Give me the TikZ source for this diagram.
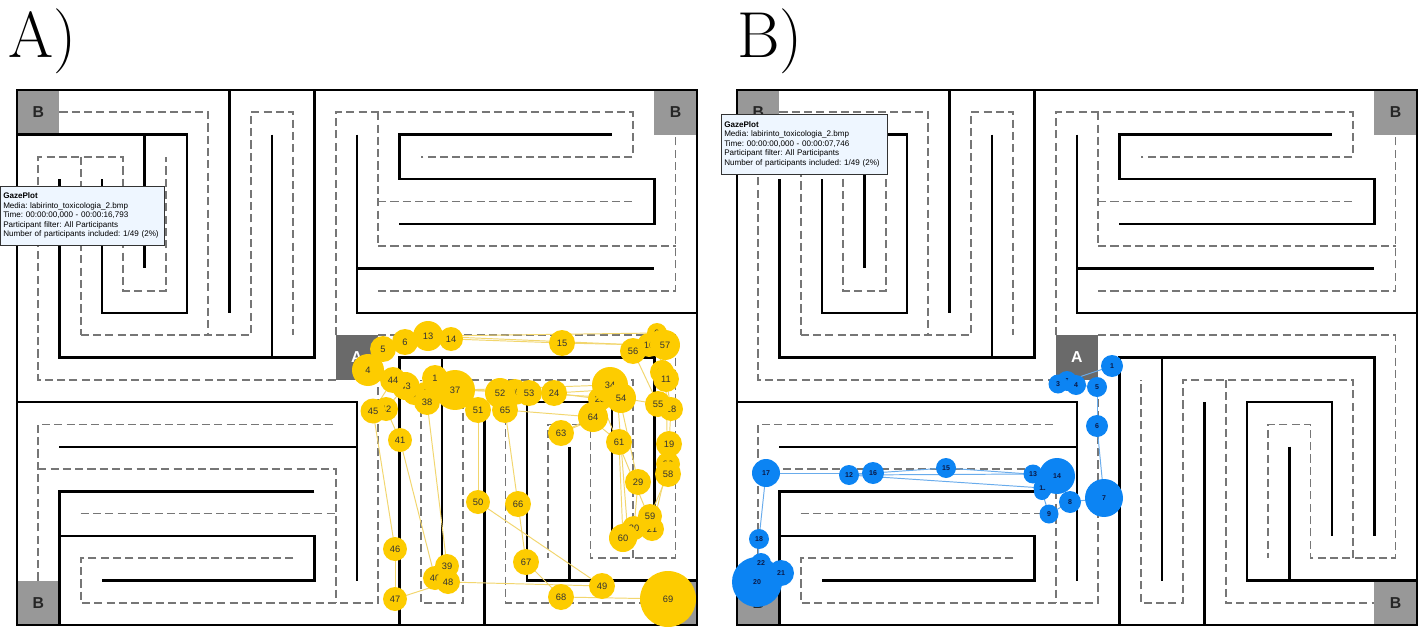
\documentclass[tikz,border=0pt]{standalone}
\usepackage{fontspec}
\setsansfont{Liberation Sans}
\definecolor{gold}{RGB}{253,204,0}
\definecolor{ylin}{RGB}{242,214,110}
\definecolor{gblue}{RGB}{12,132,243}
\definecolor{blin}{RGB}{105,172,236}
\definecolor{navy}{RGB}{10,25,70}
\definecolor{dgray}{RGB}{118,118,118}
\definecolor{bgray}{RGB}{152,152,152}
\definecolor{agray}{RGB}{106,106,106}
\definecolor{tipfill}{RGB}{238,246,255}
\pgfdeclarelayer{bg}
\pgfdeclarelayer{mid}
\pgfsetlayers{bg,mid,main}
\newcommand{\mazeplan}[1]{%
  \fill[bgray] (0,0) rectangle (1,1);
  \fill[bgray] (15,0) rectangle (16,1);
  \fill[bgray] (0,11) rectangle (1,12);
  \fill[bgray] (15,11) rectangle (16,12);
  \fill[agray] (7.5,5.5) rectangle (8.5,6.5);
  \node[blabel] (#1b1) at (0.5,0.5) {B};
  \node[blabel] (#1b2) at (15.5,0.5) {B};
  \node[blabel] (#1b3) at (0.5,11.5) {B};
  \node[blabel] (#1b4) at (15.5,11.5) {B};
  \node[alabel] (#1a) at (8,6) {A};
  % dashed corridors
  \draw[route] (1,0.5)--(4.5,0.5)--(4.5,5.5);
  \draw[route] (1.5,5.5)--(5.5,5.5)--(5.5,0.5)--(6.5,0.5)--(6.5,5.5);
  \draw[route] (7.5,6.5)--(0.5,6.5)--(0.5,1.5)--(2.5,1.5)--(2.5,4.5)--(3.5,4.5)--(3.5,1.5);
  \draw[route] (1.5,1.5)--(1.5,5.5);
  \draw[route] (7.5,5.5)--(7.5,0.5)--(14.5,0.5)--(14.5,1.5)--(9.5,1.5);
  \draw[route] (8.5,0.5)--(8.5,3.5);
  \draw[route] (8.5,2.5)--(14.5,2.5);
  \draw[route] (8.5,3.5)--(15.5,3.5);
  \draw[route] (8.5,4.5)--(15.5,4.5)--(15.5,1);
  \draw[route] (0.5,11)--(0.5,7.5)--(7.5,7.5);
  \draw[route] (0.5,8.5)--(7.5,8.5)--(7.5,11.5);
  \draw[route] (1.5,9.5)--(7.5,9.5);
  \draw[route] (6.5,10.5)--(1.5,10.5)--(1.5,11.5)--(8.5,11.5)--(8.5,6.5);
  \draw[route] (8.5,5.5)--(15.5,5.5)--(15.5,10.5)--(13.5,10.5)--(13.5,7.5)--(12.5,7.5)--(12.5,10.5);
  \draw[route] (14.5,10.5)--(14.5,6.5)--(10.5,6.5)--(10.5,11.5)--(9.5,11.5)--(9.5,6.5);
  \draw[route] (11.5,6.5)--(11.5,11.5)--(15,11.5);
  % walls
  \draw[wall] (0,0) rectangle (16,12);
  \draw[wall] (0,1)--(4,1)--(4,5)--(2,5)--(2,2);
  \draw[wall] (3,1)--(3,4);
  \draw[wall] (1,2)--(1,6)--(7,6)--(7,0);
  \draw[wall] (5,0)--(5,5);
  \draw[wall] (6,1)--(6,6);
  \draw[wall] (8,1)--(8,5)--(16,5);
  \draw[wall] (8,4)--(15,4);
  \draw[wall] (14,1)--(9,1)--(9,2)--(15,2)--(15,3)--(9,3);
  \draw[wall] (0,7)--(8,7)--(8,11);
  \draw[wall] (1,8)--(8,8);
  \draw[wall] (7,9)--(1,9)--(1,12);
  \draw[wall] (1,10)--(7,10)--(7,11)--(2,11);
  \draw[wall] (9,12)--(9,6)--(15,6)--(15,10);
  \draw[wall] (10,6)--(10,11);
  \draw[wall] (11,7)--(11,12);
  \draw[wall] (14,10)--(14,7)--(12,7)--(12,11)--(16,11);
  \draw[wall] (13,8)--(13,11);
}
\begin{document}
\begin{tikzpicture}[x=0.02cm,y=-0.02cm,
  wall/.style={line width=1.35pt, black},
  route/.style={line width=0.95pt, color=dgray, dash pattern=on 4.6pt off 2.4pt},
  blabel/.style={font=\sffamily\bfseries\fontsize{9}{10}\selectfont, text=black!85},
  alabel/.style={font=\sffamily\bfseries\fontsize{9}{10}\selectfont, text=white},
  ydot/.style={circle, fill=gold, inner sep=0pt, minimum size={#1*0.04cm}, font=\sffamily\fontsize{5.3}{6}\selectfont, text=black!80},
  bdot/.style={circle, fill=gblue, inner sep=0pt, minimum size={#1*0.04cm}, font=\sffamily\bfseries\fontsize{4}{5}\selectfont, text=navy},
  yline/.style={line width=0.55pt, color=ylin},
  bline/.style={line width=0.55pt, color=blin},
  tipbox/.style={draw=black!80, line width=0.5pt, fill=tipfill, anchor=north west, text width=90pt, inner xsep=1.6pt, align=left, font=\sffamily\fontsize{4.6}{5.4}\selectfont\frenchspacing},
  panel/.style={font=\fontsize{37}{42}\selectfont, anchor=base west, inner sep=0pt}
]
\useasboundingbox (0,0) rectangle (1421,626);
\begin{pgfonlayer}{bg}
  \fill[white] (0,0) rectangle (1421,626);
  \begin{scope}[shift={(17,90)},x=0.85cm,y=-0.892cm]
    \mazeplan{L}
  \end{scope}
  \begin{scope}[shift={(737,90)},x=0.85cm,y=-0.892cm]
    \mazeplan{R}
  \end{scope}
\end{pgfonlayer}

\node[panel] (pa) at (8,57) {A)};
\node[panel] (pb) at (737,57) {B)};

% yellow fixations (panel A)
\foreach \n/\x/\y/\r in {
 1/435/378/13, 2/425/393/11, 3/414/394/11, 4/368/370/16, 5/383/349/13,
 6/405/342/13, 7/425/337/10, 8/432/336/10, 9/657/333/10, 10/662/372/12,
 11/666/379/13, 12/664/346/10, 13/428/336/15, 14/451/339/12, 15/562/343/13,
 16/649/345/12, 17/660/340/10, 18/671/409/12, 19/669/444/13, 20/668/464/12,
 21/652/529/12, 22/650/520/9, 23/600/399/12, 24/554/393/13, 25/605/390/10,
 26/612/382/10, 27/615/395/10, 28/620/400/10, 29/638/482/13, 30/634/528/12,
 31/628/536/10, 32/617/392/10, 33/612/388/10, 34/610/385/18, 35/462/390/12,
 36/515/392/13, 37/455/390/20, 38/427/402/13, 39/447/566/12, 40/435/578/12,
 41/400/440/12, 42/386/409/12, 43/405.5/386/14, 44/393/380/13, 45/373/411/12.5,
 46/395/549/12, 47/395/599/12, 48/448/582/12, 49/602/586/13, 50/478/502/12,
 51/478/410/13, 52/500/393/15, 53/529/393/13, 54/621/398/15, 55/658/404/13,
 56/633/351/13, 57/665/345/15, 58/668/474/13, 59/650/516/12, 60/623/538/14,
 61/619/442/13, 62/592/420/10, 63/561/433/13, 64/593/417/15, 65/505/410/13,
 66/518/504/13, 67/526/562/13, 68/561/597/13, 69/668/599/28}
 {\node[ydot=\r] (y\n) at (\x,\y) {\n};}

% blue fixations (panel B)
\foreach \n/\x/\y/\r in {
 1/1112/366/11, 2/1067/381/10, 3/1058/384/9.5, 4/1076/385/10, 5/1097/387/10,
 6/1097/426/11, 7/1104/498/19, 8/1070/502/11, 9/1049/514/9.5, 10/1042/492/8,
 11/1043/488/9.5, 12/849/475/10, 13/1033/474/9.5, 14/1057/476/18, 15/946/468/10,
 16/873/473/11, 17/766/473/14, 18/759/539/10, 19/758/576/12, 20/757/582/25,
 21/781/573/13, 22/761/563/10}
 {\node[bdot=\r] (b\n) at (\x,\y) {\n};}

\begin{pgfonlayer}{mid}
  \foreach \i [evaluate=\i as \j using int(\i+1)] in {1,...,68}
    {\draw[yline] (y\i.center) -- (y\j.center);}
  \foreach \i [evaluate=\i as \j using int(\i+1)] in {1,...,21}
    {\draw[bline] (b\i.center) -- (b\j.center);}
\end{pgfonlayer}

% info boxes
\node[tipbox, minimum height=33.5pt] (tipa) at (0,186)
 {\textbf{GazePlot}\\Media: labirinto\_toxicologia\_2.bmp\\Time: 00:00:00,000 - 00:00:16,793\\Participant filter: All Participants\\Number of participants included: 1/49 (2\%)};
\node[tipbox, minimum height=34pt, text width=91pt] (tipb) at (721,114)
 {\textbf{GazePlot}\\Media: labirinto\_toxicologia\_2.bmp\\Time: 00:00:00,000 - 00:00:07,746\\Participant filter: All Participants\\Number of participants included: 1/49 (2\%)};
\end{tikzpicture}
\end{document}
